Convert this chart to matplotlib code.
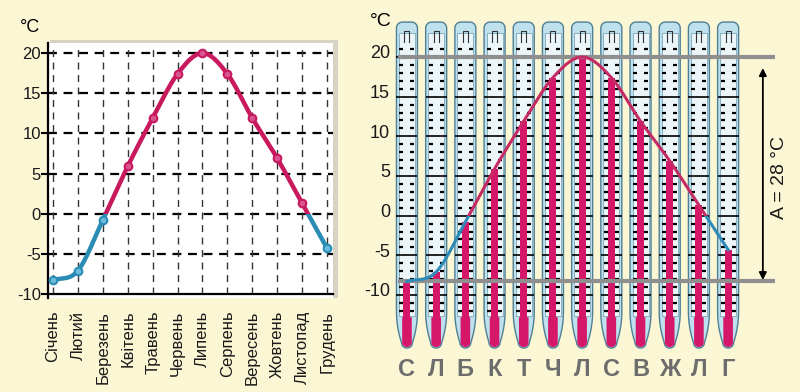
import numpy as np
import matplotlib
matplotlib.use('Agg')
import matplotlib.pyplot as plt
from matplotlib.patches import Rectangle, Polygon

# ---------------- data ----------------
months = ['Січень', 'Лютий', 'Березень', 'Квітень', 'Травень', 'Червень',
          'Липень', 'Серпень', 'Вересень', 'Жовтень', 'Листопад', 'Грудень']
letters = ['С', 'Л', 'Б', 'К', 'Т', 'Ч', 'Л', 'С', 'В', 'Ж', 'Л', 'Г']
temps = [-8.3, -7.1, -0.8, 5.9, 11.9, 17.4, 20.0, 17.4, 11.9, 6.9, 1.3, -4.3]
yticks = [-10, -5, 0, 5, 10, 15, 20]
unit = '°C'

BG = '#FBF6D4'
RED = '#C8195F'
BLUE = '#2A8CB4'
RED2 = '#D5176A'

plt.rcParams['font.family'] = ['Liberation Sans', 'DejaVu Sans']

fig = plt.figure(figsize=(8, 3.92), dpi=100, facecolor=BG)
x = np.arange(len(temps))
t = np.array(temps, float)


def smooth(xv, yv, n=24):
    xv = np.asarray(xv, float)
    yv = np.asarray(yv, float)
    px = np.concatenate([[2 * xv[0] - xv[1]], xv, [2 * xv[-1] - xv[-2]]])
    py = np.concatenate([[2 * yv[0] - yv[1]], yv, [2 * yv[-1] - yv[-2]]])
    tt = np.linspace(0, 1, n, endpoint=False)
    xs, ys = [], []
    for i in range(1, len(px) - 2):
        p = [np.array([px[j], py[j]]) for j in range(i - 1, i + 3)]
        p0, p1, p2, p3 = p
        pts = 0.5 * ((2 * p1)[:, None] + (-p0 + p2)[:, None] * tt
                     + (2 * p0 - 5 * p1 + 4 * p2 - p3)[:, None] * tt ** 2
                     + (-p0 + 3 * p1 - 3 * p2 + p3)[:, None] * tt ** 3)
        xs.append(pts[0])
        ys.append(pts[1])
    xs.append([xv[-1]])
    ys.append([yv[-1]])
    return np.concatenate(xs), np.concatenate(ys)


sx, sy = smooth(x, t)

# ---------------- left chart ----------------
shadow = Rectangle((50 / 800, 94 / 392), 288 / 800, 258 / 392,
                   transform=fig.transFigure, facecolor='#D6D2C4',
                   edgecolor='none', zorder=-1)
fig.patches.append(shadow)

ax1 = fig.add_axes([48 / 800, 94 / 392, 285 / 800, 255 / 392])
ax1.set_facecolor('white')
ax1.set_xlim(-0.2, 11.24)
ax1.set_ylim(-10.5, 21.25)
for s in ['top', 'right']:
    ax1.spines[s].set_visible(False)
ax1.spines['bottom'].set_position(('data', -10))
ax1.spines['bottom'].set_linewidth(1.6)
ax1.spines['left'].set_linewidth(1.6)
ax1.set_yticks(yticks)
ax1.set_yticklabels([str(v) for v in yticks], fontsize=12, color='#1A1A1A')
ax1.tick_params(axis='y', direction='out', length=5, width=1.5, pad=0)
ax1.set_xticks(x)
ax1.set_xticklabels(months, rotation=90, fontsize=12, va='top', color='#1A1A1A')
ax1.tick_params(axis='x', length=0, pad=12)

for v in yticks[1:]:
    ax1.axhline(v, color='black', lw=1.6, ls=(0, (4, 3)), zorder=1)
ax1.vlines(x, -10, 20.6, colors='#333333', lw=1, linestyles=(0, (5, 4)), zorder=1)

l_red, = ax1.plot(sx, sy, color=RED, lw=3.2, zorder=3)
l_blue, = ax1.plot(sx, sy, color=BLUE, lw=3.2, zorder=3)
l_red.set_clip_path(Rectangle((-1, 0), 14, 40, transform=ax1.transData))
l_blue.set_clip_path(Rectangle((-1, -40), 14, 40, transform=ax1.transData))

pos = t > 0
ax1.plot(x[pos], t[pos], 'o', ms=5.5, mfc='#D9558F', mec=RED, mew=1.5, zorder=4)
ax1.plot(x[~pos], t[~pos], 'o', ms=5.5, mfc='#6DBBDB', mec=BLUE, mew=1.5, zorder=4)

fig.text(30 / 800, 1 - 27 / 392, unit, ha='center', va='center', fontsize=13)

# ---------------- right chart ----------------
ax2 = fig.add_axes([395 / 800, 0, 395 / 800, 382 / 392])
ax2.set_xlim(-0.41, 13.12)
ax2.set_ylim(-22.23, 25.92)
ax2.axis('off')
ax2.patch.set_visible(False)

XU, YU = 29.2, 7.933  # px per data unit (style geometry only)


def tube_outline(cx):
    hw = 10.5 / XU
    rx, ry = 6 / XU, 6 / YU
    top = 24.4
    ystr = -12.1
    bw = 5.5 / XU
    yb = -16.0
    pts = [(cx - hw, ystr)]
    for a in np.linspace(np.pi, np.pi / 2, 8):
        pts.append((cx - hw + rx + rx * np.cos(a), top - ry + ry * np.sin(a)))
    for a in np.linspace(np.pi / 2, 0, 8):
        pts.append((cx + hw - rx + rx * np.cos(a), top - ry + ry * np.sin(a)))
    for s in np.linspace(0, 1, 10):
        pts.append((cx + bw + (hw - bw) * (1 - s ** 2), ystr + (yb - ystr) * s))
    for a in np.linspace(0, -np.pi, 12):
        pts.append((cx + bw * np.cos(a), yb + (5.5 / YU) * np.sin(a)))
    for s in np.linspace(1, 0, 10):
        pts.append((cx - bw - (hw - bw) * (1 - s ** 2), ystr + (yb - ystr) * s))
    return pts


def bulb(cx):
    bw = 4.8 / XU
    by = 4.5 / YU
    pts = [(cx - bw, -12.8), (cx + bw, -12.8)]
    for a in np.linspace(0, -np.pi, 12):
        pts.append((cx + bw * np.cos(a), -16.0 + by * np.sin(a)))
    return pts


degs = np.arange(-12, 22)
for xi in x:
    ax2.add_patch(Polygon(tube_outline(xi), closed=True, facecolor='#BFE1EE',
                          edgecolor='#4F7F95', lw=1.0, zorder=1))
    ax2.add_patch(Rectangle((xi - 8 / XU, -12.6), 16 / XU, 35.6,
                            facecolor='#ECF6F9', edgecolor='#7CA6B8', lw=0.6, zorder=2))
    # bore top
    ax2.plot([xi - 2.5 / XU, xi - 2.5 / XU, xi + 2.5 / XU, xi + 2.5 / XU],
             [21.9, 23.3, 23.3, 21.9], color='#333333', lw=0.8, zorder=3)
    minor = degs[degs % 5 != 0]
    ax2.hlines(minor, xi - 7.5 / XU, xi - 3.5 / XU, colors='black', lw=1.6, zorder=3)
    ax2.hlines(minor, xi + 3.5 / XU, xi + 7.5 / XU, colors='black', lw=1.6, zorder=3)
    major = degs[degs % 5 == 0]
    ax2.hlines(major, xi - 10.5 / XU, xi + 10.5 / XU, colors='black', lw=1.2, zorder=3)
    ax2.add_patch(Polygon(bulb(xi), closed=True, facecolor=RED2, edgecolor='none', zorder=4))

ax2.bar(x, t - (-13.5), bottom=-13.5, width=7 / XU, color=RED2, zorder=4)

tmax, tmin = t.max(), t.min()
ax2.hlines([tmax, tmin], -0.31, 12.6, colors='#8F8F8F', lw=3, zorder=5)

r_red, = ax2.plot(sx, sy, color='#C62A63', lw=2.2, zorder=6)
r_blue, = ax2.plot(sx, sy, color='#2E8BB8', lw=2.2, zorder=6)
r_red.set_clip_path(Rectangle((-1, 0), 15, 40, transform=ax2.transData))
r_blue.set_clip_path(Rectangle((-1, -40), 15, 40, transform=ax2.transData))

ax2.annotate('', xy=(12.19, tmax), xytext=(12.19, tmin),
             arrowprops=dict(arrowstyle='<|-|>', lw=1.3, color='black',
                             shrinkA=1, shrinkB=8, mutation_scale=11), zorder=6)
ax2.text(12.77, 4.87, f'A = {round(tmax - tmin)} {unit}', rotation=90,
         ha='center', va='center', fontsize=14, color='#1A1A1A')

for v in yticks:
    ax2.text(-0.58, v + 0.4, str(v), ha='right', va='center', fontsize=13, color='#1A1A1A')

for xi, lab in zip(x, letters):
    ax2.text(xi, -19.4, lab, ha='center', va='center', fontsize=17,
             fontweight='bold', color='#6D6D6D')

fig.text(381 / 800, 1 - 22 / 392, unit, ha='center', va='center', fontsize=14)

fig.savefig('out.png', dpi=100, facecolor=BG)
